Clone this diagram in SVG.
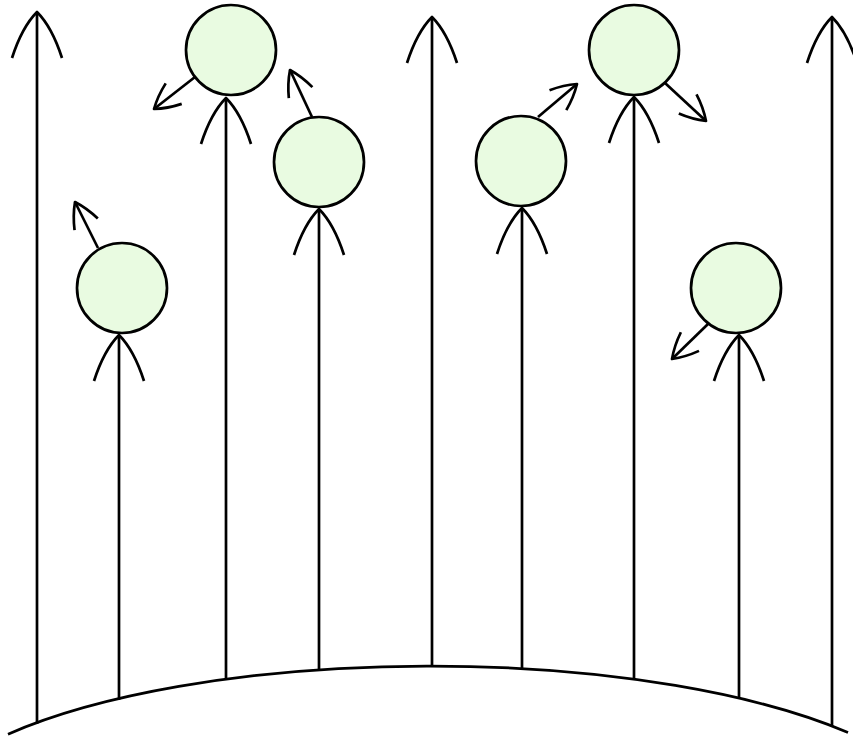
<svg xmlns="http://www.w3.org/2000/svg" width="853" height="740" viewBox="0 0 853 740">
  <style>
    .ln { fill: none; stroke: #000; stroke-width: 2.7; stroke-linejoin: round; stroke-linecap: butt; }
    .big { marker-end: url(#bigHead); }
    .small { marker-end: url(#smallHead); }
    .node circle { fill: #e9fbe1; stroke: #000; stroke-width: 2.7; }
  </style>
  <defs>
    <marker id="bigHead" markerUnits="userSpaceOnUse" orient="auto" refX="0" refY="0" markerWidth="60" markerHeight="60" viewBox="-50 -30 60 60" overflow="visible">
      <path d="M-46,-25 Q-15,-15 0,0 Q-15,15 -46,25" fill="none" stroke="#000" stroke-width="2.7" stroke-linejoin="round"/>
    </marker>
    <marker id="smallHead" markerUnits="userSpaceOnUse" orient="auto" refX="0" refY="0" markerWidth="40" markerHeight="40" viewBox="-30 -20 40 40" overflow="visible">
      <path d="M-25,-13 Q-11,-8 0,0 Q-11,8 -25,13" fill="none" stroke="#000" stroke-width="2.7" stroke-linejoin="round"/>
    </marker>
  </defs>
  <rect width="853" height="740" fill="#ffffff"/>
  <g id="ground">
    <path class="ln" d="M8,734.2 A520,164 0 0 1 848,732.5"/>
  </g>
  <g id="connectors">
    <path class="ln big" d="M37,724 V12"/>
    <path class="ln big" d="M119,700 V335"/>
    <path class="ln big" d="M226,680 V98"/>
    <path class="ln big" d="M319,671 V209"/>
    <path class="ln big" d="M432,667 V17"/>
    <path class="ln big" d="M522,670 V208"/>
    <path class="ln big" d="M634,680 V97"/>
    <path class="ln big" d="M739,699 V335"/>
    <path class="ln big" d="M832,727 V17"/>
    <path class="ln small" d="M195,77 L154,109"/>
    <path class="ln small" d="M312,117 L290,70"/>
    <path class="ln small" d="M98,248 L75,202"/>
    <path class="ln small" d="M538,117 L577,84"/>
    <path class="ln small" d="M665,83 L706,121"/>
    <path class="ln small" d="M708,324 L672,359"/>
  </g>
  <g id="node1" class="node"><circle cx="231" cy="50" r="45"/></g>
  <g id="node2" class="node"><circle cx="319" cy="162" r="45"/></g>
  <g id="node3" class="node"><circle cx="122" cy="288" r="45"/></g>
  <g id="node4" class="node"><circle cx="521" cy="161" r="45"/></g>
  <g id="node5" class="node"><circle cx="634" cy="50" r="45"/></g>
  <g id="node6" class="node"><circle cx="736" cy="288" r="45"/></g>
</svg>
